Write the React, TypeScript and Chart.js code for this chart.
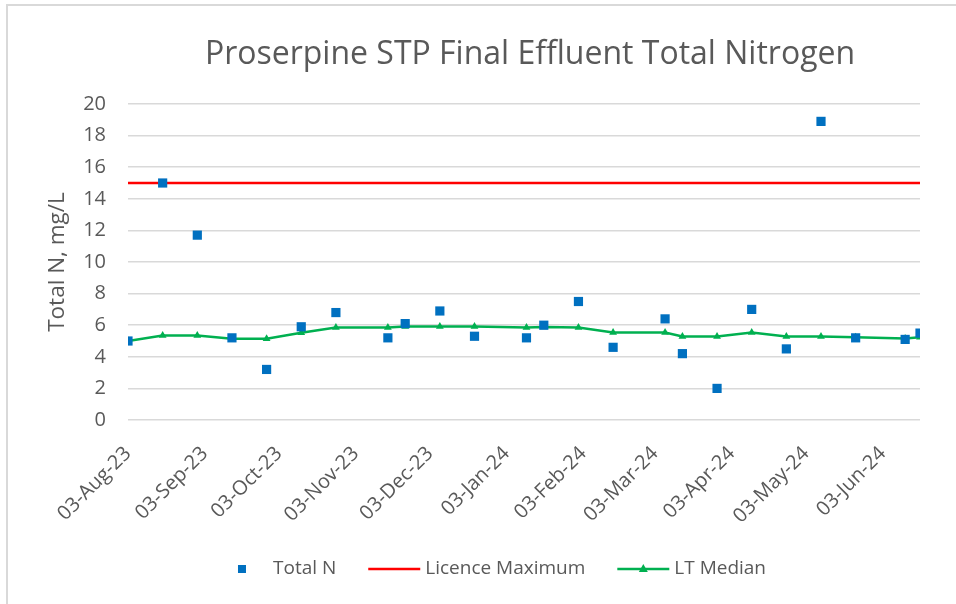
import React, { useEffect, useRef } from 'react';
import { Chart, registerables } from 'chart.js';

Chart.register(...registerables);

const chartTitle = 'Proserpine STP Final Effluent Total Nitrogen';
const yAxisTitle = 'Total N, mg/L';

const sampleDates = [
  '2023-08-03', '2023-08-17', '2023-08-31', '2023-09-14', '2023-09-28', '2023-10-12',
  '2023-10-26', '2023-11-16', '2023-11-23', '2023-12-07', '2023-12-21', '2024-01-11',
  '2024-01-18', '2024-02-01', '2024-02-15', '2024-03-07', '2024-03-14', '2024-03-28',
  '2024-04-11', '2024-04-25', '2024-05-09', '2024-05-23', '2024-06-12', '2024-06-18',
];
const totalN = [
  5.0, 15.0, 11.7, 5.2, 3.2, 5.9,
  6.8, 5.2, 6.1, 6.9, 5.3, 5.2,
  6.0, 7.5, 4.6, 6.4, 4.2, 2.0,
  7.0, 4.5, 18.9, 5.2, 5.1, 5.5,
];
const ltMedian = [
  5.0, 5.35, 5.35, 5.14, 5.14, 5.52,
  5.85, 5.85, 5.92, 5.92, 5.92, 5.85,
  5.88, 5.85, 5.54, 5.54, 5.28, 5.28,
  5.54, 5.28, 5.28, 5.24, 5.16, 5.24,
];
const licenceMaximum = 15;
const tickDates = [
  '2023-08-03', '2023-09-03', '2023-10-03', '2023-11-03', '2023-12-03', '2024-01-03',
  '2024-02-03', '2024-03-03', '2024-04-03', '2024-05-03', '2024-06-03',
];
const yMin = 0;
const yMax = 20;
const yStep = 2;

const MONTHS = ['Jan', 'Feb', 'Mar', 'Apr', 'May', 'Jun', 'Jul', 'Aug', 'Sep', 'Oct', 'Nov', 'Dec'];
const DAY = 86400000;
const toDay = (s: string) => {
  const [y, m, d] = s.split('-').map(Number);
  return Date.UTC(y, m - 1, d) / DAY;
};
const origin = toDay(sampleDates[0]);
const offset = (s: string) => toDay(s) - origin;
const fmtDate = (off: number) => {
  const d = new Date((origin + off) * DAY);
  const dd = String(d.getUTCDate()).padStart(2, '0');
  return `${dd}-${MONTHS[d.getUTCMonth()]}-${String(d.getUTCFullYear()).slice(2)}`;
};

const FONT = '"Open Sans", "Noto Sans", sans-serif';
const TEXT = '#595959';
const BLUE = '#0070C0';
const RED = '#FF0000';
const GREEN = '#00B050';

const titlePlugin = {
  id: 'customTitle',
  afterDraw(chart: any) {
    const { ctx, chartArea } = chart;
    ctx.save();
    ctx.font = `32px ${FONT}`;
    ctx.fillStyle = TEXT;
    ctx.textAlign = 'center';
    ctx.textBaseline = 'alphabetic';
    ctx.fillText(chartTitle, (chartArea.left + chartArea.right) / 2 + 6, 64);
    ctx.restore();
  },
};

const legendPlugin = {
  id: 'customLegend',
  afterDraw(chart: any) {
    const { ctx } = chart;
    const ds = chart.data.datasets;
    ctx.save();
    ctx.font = `19px ${FONT}`;
    const boxW = 52;
    const gap = 5;
    const itemGap = 32;
    const widths = ds.map((d: any) => boxW + gap + ctx.measureText(d.label).width);
    const total = widths.reduce((a: number, b: number) => a + b, 0) + itemGap * (ds.length - 1);
    let x = 491 - total / 2;
    const y = 569;
    ds.forEach((d: any, i: number) => {
      const cx = x + boxW / 2;
      if (d.showLine === false) {
        ctx.fillStyle = d.backgroundColor;
        ctx.fillRect(cx - 4, y - 4, 8, 8);
      } else {
        ctx.strokeStyle = d.borderColor;
        ctx.lineWidth = d.borderWidth;
        ctx.beginPath();
        ctx.moveTo(x, y);
        ctx.lineTo(x + boxW, y);
        ctx.stroke();
        if (d.pointStyle === 'triangle') {
          ctx.fillStyle = d.backgroundColor;
          ctx.beginPath();
          ctx.moveTo(cx, y - 5);
          ctx.lineTo(cx + 4.5, y + 3);
          ctx.lineTo(cx - 4.5, y + 3);
          ctx.closePath();
          ctx.fill();
        }
      }
      ctx.fillStyle = TEXT;
      ctx.textAlign = 'left';
      ctx.textBaseline = 'middle';
      ctx.fillText(d.label, x + boxW + gap, y);
      x += widths[i] + itemGap;
    });
    ctx.restore();
  },
};

export default function App() {
  const ref = useRef<HTMLCanvasElement>(null);

  useEffect(() => {
    document.body.style.margin = '0';
    const xs = sampleDates.map(offset);
    const xMax = xs[xs.length - 1];
    const chart = new Chart(ref.current as HTMLCanvasElement, {
      type: 'line',
      data: {
        datasets: [
          {
            label: 'Total N',
            data: xs.map((x, i) => ({ x, y: totalN[i] })),
            showLine: false,
            pointStyle: 'rect',
            pointRadius: 6.5,
            pointHoverRadius: 6.5,
            backgroundColor: BLUE,
            borderColor: BLUE,
            borderWidth: 0,
          },
          {
            label: 'Licence Maximum',
            data: [{ x: 0, y: licenceMaximum }, { x: xMax, y: licenceMaximum }],
            borderColor: RED,
            backgroundColor: RED,
            borderWidth: 2.5,
            pointRadius: 0,
          },
          {
            label: 'LT Median',
            data: xs.map((x, i) => ({ x, y: ltMedian[i] })),
            borderColor: GREEN,
            backgroundColor: GREEN,
            borderWidth: 2.5,
            pointStyle: 'triangle',
            pointRadius: 4.5,
            pointBorderWidth: 0,
          },
        ],
      },
      options: {
        responsive: false,
        animation: false,
        layout: { padding: { left: 40, right: 36, top: 104, bottom: 64 } },
        plugins: {
          legend: { display: false },
          title: { display: false },
          tooltip: { enabled: false },
        },
        scales: {
          x: {
            type: 'linear',
            min: 0,
            max: xMax,
            grid: { display: false },
            border: { display: false },
            afterBuildTicks: (scale: any) => {
              scale.ticks = tickDates.map((d) => ({ value: offset(d) }));
            },
            afterFit: (scale: any) => {
              scale.height = 120;
            },
            ticks: {
              autoSkip: false,
              minRotation: 45,
              maxRotation: 45,
              padding: 14,
              color: TEXT,
              font: { family: FONT, size: 20 },
              callback: (v: any) => fmtDate(Number(v)),
            },
          },
          y: {
            min: yMin,
            max: yMax,
            grid: { color: '#D9D9D9', lineWidth: 1.5, drawTicks: false },
            border: { display: false },
            afterFit: (scale: any) => {
              scale.width = 88;
            },
            ticks: {
              stepSize: yStep,
              padding: 22,
              color: TEXT,
              font: { family: FONT, size: 20 },
            },
            title: {
              display: true,
              text: yAxisTitle,
              color: TEXT,
              font: { family: FONT, size: 22.5 },
            },
          },
        },
      },
      plugins: [titlePlugin, legendPlugin],
    } as any);
    return () => chart.destroy();
  }, []);

  return (
    <div style={{ position: 'relative', width: 956, height: 604, background: '#fff', overflow: 'hidden' }}>
      <div
        style={{
          position: 'absolute',
          left: 6,
          top: 4,
          right: -4,
          bottom: -4,
          borderLeft: '2px solid #D9D9D9',
          borderTop: '2px solid #D9D9D9',
        }}
      />
      <canvas ref={ref} width={956} height={604} style={{ position: 'absolute', left: 0, top: 0 }} />
    </div>
  );
}
